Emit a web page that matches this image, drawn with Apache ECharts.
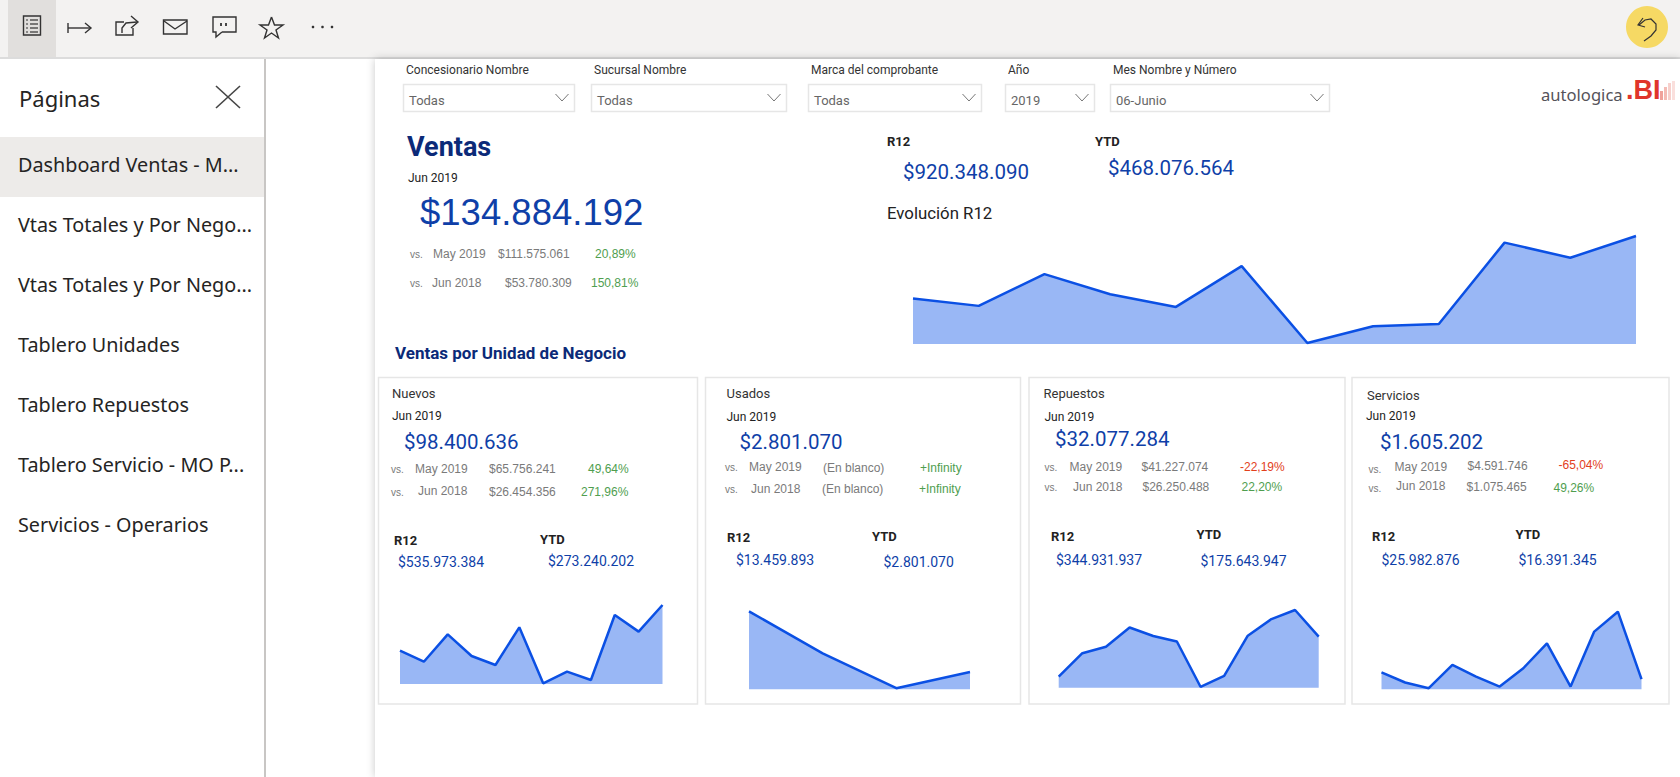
<!DOCTYPE html>
<html>
<head>
<meta charset="utf-8">
<title>Dashboard Ventas</title>
<script src="https://cdn.jsdelivr.net/npm/echarts@6/dist/echarts.min.js"></script>
<style>
html, body { margin: 0; padding: 0; background: #fff; overflow: hidden; }
#chart { width: 1680px; height: 777px; }
</style>
</head>
<body>
<div id="chart"></div>
<script>
// paginas del panel izquierdo
var paginas = ['Dashboard Ventas - M...', 'Vtas Totales y Por Nego...', 'Vtas Totales y Por Nego...', 'Tablero Unidades', 'Tablero Repuestos', 'Tablero Servicio - MO P...', 'Servicios - Operarios'];

// filtros
var filtroNombres = ['Concesionario Nombre', 'Sucursal Nombre', 'Marca del comprobante', 'Año', 'Mes Nombre y Número'];
var filtroValores = ['Todas', 'Todas', 'Todas', '2019', '06-Junio'];

// meses de las series (millones)
var meses12 = ['Jul 2018', 'Ago 2018', 'Sep 2018', 'Oct 2018', 'Nov 2018', 'Dic 2018', 'Ene 2019', 'Feb 2019', 'Mar 2019', 'Abr 2019', 'May 2019', 'Jun 2019'];
var meses4 = ['Mar 2019', 'Abr 2019', 'May 2019', 'Jun 2019'];

var ventasR12 = [68.0, 60.1, 94.1, 72.6, 59.0, 102.7, 20.4, 38.3, 40.8, 127.8, 111.6, 134.9];
var nuevosR12 = [42.5, 29.0, 62.5, 36.0, 25.0, 71.1, 2.5, 16.8, 6.6, 86.2, 65.8, 98.4];
var usadosR12 = [4.98, 3.47, 2.22, 2.80];
var repuestosR12 = [18.4, 26.4, 28.6, 35.2, 32.3, 30.4, 14.9, 18.6, 32.4, 38.1, 41.2, 32.1];
var serviciosR12 = [1.91, 1.46, 1.21, 2.24, 1.72, 1.28, 2.09, 3.19, 1.28, 3.71, 4.59, 1.61];

// piso del eje y de cada mini grafico
var pisos = [19.3, 1.7, 2.18, 14.58, 1.16];

// tarjetas: nombre, mes, actual, vs mes, vs anio, r12, ytd
var unidades = ['Nuevos', 'Usados', 'Repuestos', 'Servicios'];
var actuales = ['$98.400.636', '$2.801.070', '$32.077.284', '$1.605.202'];
var vsMay = ['$65.756.241', '(En blanco)', '$41.227.074', '$4.591.746'];
var vsJun = ['$26.454.356', '(En blanco)', '$26.250.488', '$1.075.465'];
var pctMay = ['49,64%', '+Infinity', '-22,19%', '-65,04%'];
var pctJun = ['271,96%', '+Infinity', '22,20%', '49,26%'];
var r12 = ['$535.973.384', '$13.459.893', '$344.931.937', '$25.982.876'];
var ytd = ['$273.240.202', '$2.801.070', '$175.643.947', '$16.391.345'];

var DIN = 'Roboto';
var ARIAL = '"Liberation Sans"';
var SEGOE = '"Noto Sans"';
var AZUL = '#0f3fa8';
var MARINO = '#0b2a78';
var GRIS = '#7a7a7a';
var VERDE = '#4f9e4f';
var ROJO = '#e2401c';
var LINEA = '#0b50e4';
var AREA = '#99b7f5';

var g = [];

function rect(x, y, w, h, fill, stroke, lw) {
	g.push({ type: 'rect', shape: { x: x, y: y, width: w, height: h },
		style: { fill: fill || 'none', stroke: stroke || 'none', lineWidth: lw || 0 }, silent: true });
}
function trazo(puntos, color, lw) {
	g.push({ type: 'polyline', shape: { points: puntos }, style: { fill: 'none', stroke: color || '#333', lineWidth: lw || 1.4 }, silent: true });
}
function txt(x, y, s, size, color, family, weight) {
	g.push({ type: 'text', x: x, y: y, silent: true, z: 5,
		style: { text: s, fill: color, fontSize: size, fontFamily: family || DIN, fontWeight: weight || 'normal', textAlign: 'left', textVerticalAlign: 'middle' } });
}

// barra superior
rect(0, 0, 1680, 57, '#f3f2f1');
rect(0, 57, 1680, 2, '#dcdcdc');
rect(8, 0, 48, 57, '#e1dfdd');

// iconos
rect(23.5, 16, 17, 19, 'none', '#333', 1.4);
[20, 24, 28, 32].forEach(function (y) {
	trazo([[26, y], [28, y]], '#333', 1.2);
	trazo([[30, y], [38, y]], '#333', 1.2);
});
trazo([[68, 23], [68, 33]]);
trazo([[68, 28], [91, 28]]);
trazo([[85, 23], [91, 28], [85, 33]]);
trazo([[124, 22], [116, 22], [116, 35], [133, 35], [133, 28]]);
trazo([[122, 33], [122, 28], [126, 23], [137, 22]]);
trazo([[131, 16], [138, 22], [131, 28]]);
rect(163.5, 20, 23.5, 14, 'none', '#333', 1.4);
trazo([[164, 21], [175, 29], [187, 21]]);
trazo([[222, 32], [236, 32], [236, 17], [213, 17], [213, 32], [216, 32], [216, 37], [222, 32]]);
trazo([[221, 23], [221, 26]], '#333', 1.8);
trazo([[226, 23], [226, 26]], '#333', 1.8);
trazo([[271.5, 17], [274.5, 25], [283, 25], [276, 30], [278.5, 38], [271.5, 33], [264.5, 38], [267, 30], [260, 25], [268.5, 25], [271.5, 17]]);
[313, 322.5, 332].forEach(function (x) {
	g.push({ type: 'circle', shape: { cx: x, cy: 27, r: 1.3 }, style: { fill: '#333' }, silent: true });
});
g.push({ type: 'circle', shape: { cx: 1647, cy: 27, r: 21 }, style: { fill: '#f6d964' }, silent: true });
trazo([[1639, 25], [1645, 20], [1651, 19], [1656, 24], [1656, 30], [1651, 36], [1644, 41]], '#333', 1.2);
trazo([[1643, 18], [1638, 25], [1645, 27]], '#333', 1.2);

// panel de paginas
rect(264, 59, 2, 718, '#c8c6c4');
txt(19, 98, 'Páginas', 22, '#252423', SEGOE);
trazo([[216, 86], [240, 108]], '#444', 1.6);
trazo([[240, 86], [216, 108]], '#444', 1.6);
rect(0, 137, 264, 60, '#edebe9');
paginas.forEach(function (p, i) {
	txt(18, 164 + i * 60, p, 19.8, '#252423', SEGOE);
});

// lienzo del informe
g.push({ type: 'rect', shape: { x: 375, y: 59, width: 1305, height: 718 }, silent: true,
	style: { fill: '#fff', shadowBlur: 8, shadowColor: 'rgba(0,0,0,0.22)' } });

// filtros
var filtroX = [403, 591, 808, 1005, 1110];
var filtroFin = [575, 787, 982, 1095, 1330];
var filtroTxt = [406, 594, 811, 1008, 1113];
filtroNombres.forEach(function (n, i) {
	txt(filtroTxt[i], 70, n, 12, '#333');
	rect(filtroX[i] + 0.5, 84.5, filtroFin[i] - filtroX[i] - 1, 27, '#fff', '#e6e6e6', 1.5);
	txt(filtroX[i] + 6, 100, filtroValores[i], 13, '#666');
	var cx = filtroFin[i] - 13;
	trazo([[cx - 6.5, 94], [cx, 101], [cx + 6.5, 94]], '#777', 1);
});

// logo
txt(1541, 94, 'autologica', 16.6, '#55535a', SEGOE);
txt(1626, 90, '.BI', 27, '#e0352b', ARIAL, 'bold');
rect(1660, 91, 3, 9, '#f0a29b');
rect(1664, 87, 3, 13, '#f4bcb6');
rect(1668, 83, 3, 17, '#f7d0cc');
rect(1672, 81, 3, 19, '#fadfdc');

// encabezado ventas
txt(407, 147, 'Ventas', 27, MARINO, DIN, 'bold');
txt(408, 178, 'Jun 2019', 12, '#222');
txt(420, 212, '$134.884.192', 36.5, AZUL, ARIAL);
txt(410, 254, 'vs.', 10, GRIS, ARIAL);
txt(433, 254, 'May 2019', 12, GRIS, ARIAL);
txt(498, 254, '$111.575.061', 12, GRIS, ARIAL);
txt(595, 254, '20,89%', 12, VERDE, ARIAL);
txt(410, 283, 'vs.', 10, GRIS, ARIAL);
txt(432, 283, 'Jun 2018', 12, GRIS, ARIAL);
txt(505, 283, '$53.780.309', 12, GRIS, ARIAL);
txt(591, 283, '150,81%', 12, VERDE, ARIAL);

txt(887, 141, 'R12', 13, '#222', DIN, 'bold');
txt(1095, 141, 'YTD', 13, '#222', DIN, 'bold');
txt(903, 172, '$920.348.090', 20.5, AZUL);
txt(1108, 168, '$468.076.564', 20.5, AZUL);
txt(887, 213, 'Evolución R12', 16.8, '#222');
txt(395, 353, 'Ventas por Unidad de Negocio', 17, MARINO, DIN, 'bold');

// tarjetas: las posiciones no son regulares en el original
var tarjetas = [
	{ box: [378.5, 697.5], nom: [392, 393], mes: [392, 416], act: [404, 442], vs1: [391, 469], vs2: [391, 492], m1: [415, 469], m2: [418, 491], v1: [489, 469], v2: [489, 492], p1: [588, 469], p2: [581, 492], rl: [394, 540], yl: [540, 539], rv: [398, 562], yv: [548, 561] },
	{ box: [705.5, 1020.5], nom: [726.5, 393], mes: [726.5, 417], act: [739.5, 442], vs1: [725, 467], vs2: [725, 489], m1: [749, 467], m2: [751, 489], v1: [823, 468], v2: [822, 489], p1: [920, 468], p2: [919, 489], rl: [727, 537], yl: [872, 536], rv: [736, 560], yv: [883.5, 562] },
	{ box: [1029, 1345], nom: [1043.5, 393], mes: [1044.5, 417], act: [1055, 439], vs1: [1044.5, 467], vs2: [1044.5, 487], m1: [1069.5, 467], m2: [1073, 487], v1: [1141.5, 467], v2: [1142.5, 487], p1: [1240, 467], p2: [1241.5, 487], rl: [1051, 536], yl: [1196.5, 534], rv: [1056, 560], yv: [1200.5, 561] },
	{ box: [1352, 1669], nom: [1367, 395], mes: [1366, 416], act: [1380, 442], vs1: [1368.5, 469], vs2: [1368.5, 488], m1: [1394.5, 467], m2: [1396, 486], v1: [1467.5, 466], v2: [1466.5, 487], p1: [1558.5, 465], p2: [1553.5, 488], rl: [1372, 536], yl: [1515.5, 534], rv: [1381.5, 560], yv: [1518.5, 560] }
];
function colorPct(p) {
	return p.charAt(0) === '-' ? ROJO : VERDE;
}
tarjetas.forEach(function (t, i) {
	rect(t.box[0], 377.5, t.box[1] - t.box[0], 326.5, 'none', '#e6e6e6', 1.5);
	txt(t.nom[0], t.nom[1], unidades[i], 13, '#333');
	txt(t.mes[0], t.mes[1], 'Jun 2019', 12, '#222');
	txt(t.act[0], t.act[1], actuales[i], 20.5, AZUL);
	txt(t.vs1[0], t.vs1[1], 'vs.', 10, GRIS, ARIAL);
	txt(t.vs2[0], t.vs2[1], 'vs.', 10, GRIS, ARIAL);
	txt(t.m1[0], t.m1[1], 'May 2019', 12, GRIS, ARIAL);
	txt(t.m2[0], t.m2[1], 'Jun 2018', 12, GRIS, ARIAL);
	txt(t.v1[0], t.v1[1], vsMay[i], 12, GRIS, ARIAL);
	txt(t.v2[0], t.v2[1], vsJun[i], 12, GRIS, ARIAL);
	txt(t.p1[0], t.p1[1], pctMay[i], 12, colorPct(pctMay[i]), ARIAL);
	txt(t.p2[0], t.p2[1], pctJun[i], 12, colorPct(pctJun[i]), ARIAL);
	txt(t.rl[0], t.rl[1], 'R12', 13, '#222', DIN, 'bold');
	txt(t.yl[0], t.yl[1], 'YTD', 13, '#222', DIN, 'bold');
	txt(t.rv[0], t.rv[1], r12[i], 14, AZUL);
	txt(t.yv[0], t.yv[1], ytd[i], 14, AZUL);
});

// graficos de area
var cajas = [
	{ left: 913, top: 236, width: 723, height: 108 },
	{ left: 400, top: 605, width: 262.5, height: 79 },
	{ left: 749, top: 611.3, width: 221, height: 78 },
	{ left: 1058.7, top: 610, width: 260, height: 77.7 },
	{ left: 1381.5, top: 611.7, width: 260, height: 77.6 }
];
var series = [ventasR12, nuevosR12, usadosR12, repuestosR12, serviciosR12];
var cats = [meses12, meses12, meses4, meses12, meses12];

var option = {
	animation: false,
	backgroundColor: '#fff',
	graphic: { elements: g },
	grid: cajas,
	xAxis: cajas.map(function (c, i) {
		return { type: 'category', gridIndex: i, data: cats[i], boundaryGap: false, show: false };
	}),
	yAxis: cajas.map(function (c, i) {
		return { type: 'value', gridIndex: i, min: pisos[i], max: 'dataMax', show: false };
	}),
	series: series.map(function (d, i) {
		return {
			type: 'line',
			xAxisIndex: i,
			yAxisIndex: i,
			data: d,
			z: 10,
			clip: false,
			silent: true,
			showSymbol: false,
			lineStyle: { color: LINEA, width: 2.5 },
			areaStyle: { color: AREA, opacity: 1, origin: 'start' }
		};
	})
};

var myChart = echarts.init(document.getElementById('chart'), null, { renderer: 'svg' });
myChart.setOption(option);
</script>
</body>
</html>
